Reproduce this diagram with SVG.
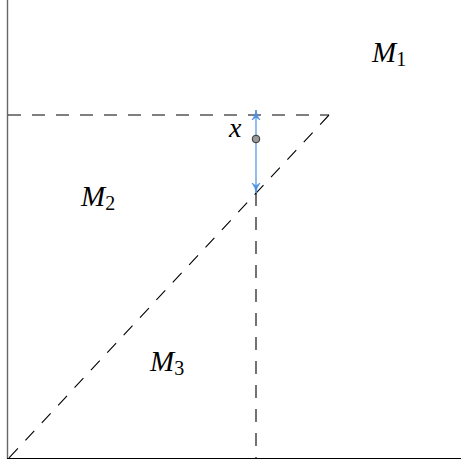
<svg xmlns="http://www.w3.org/2000/svg" width="462" height="461" viewBox="0 0 462 461">
<defs>
<style>
.axis{stroke:#000;stroke-width:1.2;fill:none}
.axl{stroke:#666;stroke-width:1.4;fill:none}
.dash{stroke:#000;stroke-width:1.1;stroke-dasharray:13 11;fill:none}
.arr{stroke:#4a90e2;stroke-width:1.2;fill:none}
.lbl{font-family:"Liberation Serif","DejaVu Serif",serif;font-style:italic;font-size:29px;fill:#000}
.sub{font-family:"Liberation Serif","DejaVu Serif",serif;font-style:normal;font-size:20px}
</style>
<marker id="ah" viewBox="0 0 10 10" refX="10" refY="5" markerWidth="10" markerHeight="10" orient="auto-start-reverse" markerUnits="userSpaceOnUse">
<path d="M0,1 Q5,5 10,5 Q5,5 0,9 L3,5 Z" fill="#4a90e2" stroke="#4a90e2" stroke-width="0.8"/>
</marker>
</defs>
<g id="axes">
<line class="axl" x1="7.5" y1="0" x2="7.5" y2="459"/>
<line class="axis" x1="7" y1="458.5" x2="461" y2="458.5"/>
</g>
<g id="connectors">
<line class="dash" x1="8" y1="115" x2="329" y2="115"/>
<line class="dash" x1="329" y1="115" x2="8" y2="459"/>
<line class="dash" x1="256" y1="193" x2="256" y2="459"/>
<line class="arr" x1="256" y1="193" x2="256" y2="110" marker-start="url(#ah)" marker-end="url(#ah)"/>
</g>
<g id="point-x">
<circle cx="256" cy="139" r="3.8" fill="#999" stroke="#333" stroke-width="1"/>
<text class="lbl" x="229" y="137" style="font-size:28px">x</text>
</g>
<g id="M1"><text class="lbl" x="372" y="62">M<tspan class="sub" dy="4">1</tspan></text></g>
<g id="M2"><text class="lbl" x="81" y="206">M<tspan class="sub" dy="4">2</tspan></text></g>
<g id="M3"><text class="lbl" x="150" y="371">M<tspan class="sub" dy="4">3</tspan></text></g>
</svg>
